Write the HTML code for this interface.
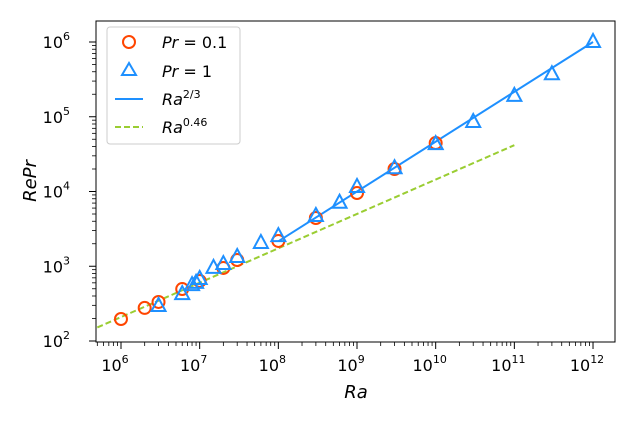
<!DOCTYPE html>
<html><head><meta charset="utf-8"><style>
body{margin:0;background:#fff}
svg{display:block;font-family:"DejaVu Sans","Liberation Sans",sans-serif}
</style></head><body>
<svg id="chart" width="638" height="425" viewBox="0 0 638 425">
<rect x="96" y="21" width="519" height="321" fill="#fff" stroke="#000" stroke-width="1"/>
<g id="ticks"></g>
<g id="series"></g>
<text x="356" y="398" font-size="18" font-style="italic" text-anchor="middle">Ra</text>
<text transform="translate(36,181) rotate(-90)" font-size="18" font-style="italic" text-anchor="middle">RePr</text>
<g>
<rect x="107" y="27" width="133" height="117" rx="3" fill="#fff" fill-opacity="0.8" stroke="#ccc"/>
<circle cx="129" cy="42" r="6" fill="none" stroke="#ff4500" stroke-width="2"/>
<text x="162" y="48" font-size="16"><tspan font-style="italic">Pr</tspan> = 0.1</text>
<path d="M129,63 L136,75 L122,75 Z" fill="none" stroke="#1e90ff" stroke-width="2"/>
<text x="162" y="77" font-size="16"><tspan font-style="italic">Pr</tspan> = 1</text>
<line x1="115" y1="99" x2="143" y2="99" stroke="#1e90ff" stroke-width="2"/>
<text x="162" y="105" font-size="16"><tspan font-style="italic">Ra</tspan><tspan font-size="11" dy="-7">2/3</tspan></text>
<line x1="115" y1="127" x2="143" y2="127" stroke="#9acd32" stroke-width="2" stroke-dasharray="6,3"/>
<text x="162" y="133" font-size="16"><tspan font-style="italic">Ra</tspan><tspan font-size="11" dy="-7">0.46</tspan></text>
</g>
</svg>
<script>
const raPr01=[1e6,2e6,3e6,6e6,1e7,2e7,3e7,1e8,3e8,1e9,3e9,1e10];
const rePr01=[197,277,333,496,636,948,1210,2180,4420,9550,20000,44500];
const raPr1=[3e6,6e6,8e6,9e6,1e7,1.5e7,2e7,3e7,6e7,1e8,3e8,6e8,1e9,3e9,1e10,3e10,1e11,3e11,1e12];
const rePr1=[294,424,560,600,675,950,1070,1330,2050,2530,4700,7070,11500,20500,43000,85000,190000,370000,1e6];
const fitRa23=[1e8,1e12];
const fitRa046=[5e5,1e11];
const xTickExp=[6,7,8,9,10,11,12];
const yTickExp=[2,3,4,5,6];
const NS='http://www.w3.org/2000/svg';
const X=v=>121+78.67*(Math.log10(v)-6);
const Y=v=>341-74.75*(Math.log10(v)-2);
const tg=document.getElementById('ticks'), sg=document.getElementById('series');
function mk(tag,at,p){const e=document.createElementNS(NS,tag);for(const k in at)e.setAttribute(k,at[k]);p.appendChild(e);return e;}
// x ticks
for(let e=5;e<=12;e++){for(let m=1;m<10;m++){const v=m*Math.pow(10,e);const x=X(v);if(x<96||x>615)continue;
 const t=mk('line',{x1:x,x2:x,y1:342,y2:m==1?349:346,stroke:'#000','stroke-width':m==1?1:0.8},tg);
 
 }}
xTickExp.forEach(e=>{const t=mk('text',{x:X(Math.pow(10,e))-6,y:371,'font-size':16,'text-anchor':'middle'},tg);
 
 
 t.innerHTML='10<tspan font-size="11" dy="-8">'+e+'</tspan>';});
for(let e=2;e<=6;e++){for(let m=1;m<10;m++){const v=m*Math.pow(10,e);const y=Y(v);if(y<21||y>342)continue;
 const t=mk('line',{x1:m==1?89:92,x2:96,y1:y,y2:y,stroke:'#000','stroke-width':m==1?1:0.8},tg);
 
 }}
yTickExp.forEach(e=>{const t=mk('text',{x:70,y:Y(Math.pow(10,e))+6,'font-size':16,'text-anchor':'end'},tg);
 
 
 t.innerHTML='10<tspan font-size="11" dy="-8">'+e+'</tspan>';});
// fits
const l1=mk('line',{x1:X(fitRa23[0]),y1:Y(0.01*Math.pow(fitRa23[0],2/3)),x2:X(fitRa23[1]),y2:Y(0.01*Math.pow(fitRa23[1],2/3)),stroke:'#1e90ff','stroke-width':2},sg);


const l2=mk('line',{x1:X(fitRa046[0]),y1:Y(0.363*Math.pow(fitRa046[0],0.46)),x2:X(fitRa046[1]),y2:Y(0.363*Math.pow(fitRa046[1],0.46)),stroke:'#9acd32','stroke-width':2,'stroke-dasharray':'6,3'},sg);


raPr01.forEach((r,i)=>{const c=mk('circle',{cx:X(r),cy:Y(rePr01[i]),r:6,fill:'none',stroke:'#ff4500','stroke-width':2},sg);
 
 });
raPr1.forEach((r,i)=>{const x=X(r),y=Y(rePr1[i]);const p=mk('path',{d:`M${x},${y-8} L${x+7},${y+5} L${x-7},${y+5} Z`,fill:'none',stroke:'#1e90ff','stroke-width':2},sg);
 
 });
</script>
</body></html>
